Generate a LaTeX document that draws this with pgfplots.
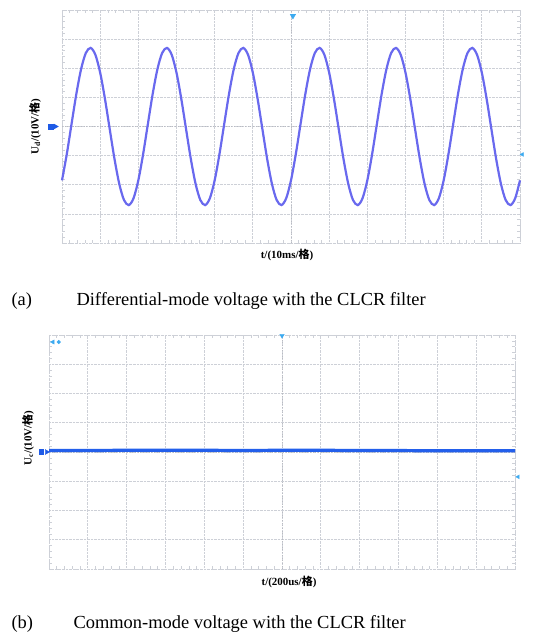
\documentclass[border=0pt]{standalone}
\usepackage{fontspec}
\setmainfont{Liberation Serif}
\newfontfamily\cjk{Noto Sans CJK SC}
\usepackage{pgfplots}
\pgfplotsset{compat=1.18}
\definecolor{sinecol}{RGB}{105,105,238}
\definecolor{flatcol}{RGB}{35,95,235}
\definecolor{mkdark}{RGB}{30,90,230}
\definecolor{mklight}{RGB}{60,170,240}
\definecolor{gridcol}{RGB}{205,208,215}
\pgfplotsset{
  scope/.style={
    scale only axis,
    xmin=0, xmax=12, ymin=-4, ymax=4,
    xtick={0,...,12}, ytick={-4,...,4},
    xticklabels={}, yticklabels={},
    minor x tick num=4, minor y tick num=4,
    major tick length=0pt, minor tick length=3bp,
    tick style={gridcol, line width=0.6pt},
    grid=major,
    major grid style={gridcol, densely dotted, line width=0.7pt},
    axis line style={gridcol, densely dotted, line width=0.8pt},
    extra x ticks={6}, extra y ticks={0},
    extra x tick labels={}, extra y tick labels={},
    extra tick style={grid=major, major grid style={gridcol!90!black, dotted, line width=1pt}},
    clip=false,
    label style={font=\bfseries\fontsize{11}{13}\selectfont},
  }
}
\begin{document}
\begin{tikzpicture}
\useasboundingbox (0,0) rectangle (549bp,639bp);
% ---------------- panel (a)
\begin{axis}[scope,
  at={(62bp,396bp)}, anchor=south west,
  width=458bp, height=233bp,
  xlabel={t/(10ms/{\cjk 格})},
  ylabel={U\textsubscript{d}/(10V/{\cjk 格})},
  xlabel style={at={(axis description cs:0.5,0)}, anchor=center, yshift=-12bp, xshift=-4bp},
  ylabel style={at={(axis description cs:0,0.5)}, anchor=center, yshift=27bp},
]
\addplot[sinecol, line width=2.2bp, smooth, tension=0.5] coordinates {
(0.000,-1.848)(0.125,-0.954)(0.250,0.085)(0.375,1.111)(0.500,1.968)(0.625,2.526)(0.750,2.699)(0.875,2.461)
(1.000,1.848)(1.125,0.954)(1.250,-0.085)(1.375,-1.111)(1.500,-1.968)(1.625,-2.526)(1.750,-2.699)(1.875,-2.461)
(2.000,-1.848)(2.125,-0.954)(2.250,0.085)(2.375,1.111)(2.500,1.968)(2.625,2.526)(2.750,2.699)(2.875,2.461)
(3.000,1.848)(3.125,0.954)(3.250,-0.085)(3.375,-1.111)(3.500,-1.968)(3.625,-2.526)(3.750,-2.699)(3.875,-2.461)
(4.000,-1.848)(4.125,-0.954)(4.250,0.085)(4.375,1.111)(4.500,1.968)(4.625,2.526)(4.750,2.699)(4.875,2.461)
(5.000,1.848)(5.125,0.954)(5.250,-0.085)(5.375,-1.111)(5.500,-1.968)(5.625,-2.526)(5.750,-2.699)(5.875,-2.461)
(6.000,-1.848)(6.125,-0.954)(6.250,0.085)(6.375,1.111)(6.500,1.968)(6.625,2.526)(6.750,2.699)(6.875,2.461)
(7.000,1.848)(7.125,0.954)(7.250,-0.085)(7.375,-1.111)(7.500,-1.968)(7.625,-2.526)(7.750,-2.699)(7.875,-2.461)
(8.000,-1.848)(8.125,-0.954)(8.250,0.085)(8.375,1.111)(8.500,1.968)(8.625,2.526)(8.750,2.699)(8.875,2.461)
(9.000,1.848)(9.125,0.954)(9.250,-0.085)(9.375,-1.111)(9.500,-1.968)(9.625,-2.526)(9.750,-2.699)(9.875,-2.461)
(10.000,-1.848)(10.125,-0.954)(10.250,0.085)(10.375,1.111)(10.500,1.968)(10.625,2.526)(10.750,2.699)(10.875,2.461)
(11.000,1.848)(11.125,0.954)(11.250,-0.085)(11.375,-1.111)(11.500,-1.968)(11.625,-2.526)(11.750,-2.699)(11.875,-2.461)
(12.000,-1.848)
};
% ground marker (left)
\addplot[only marks, mark=square*, mark size=2.4bp, mkdark] coordinates {(-0.30,0)};
\addplot[only marks, mark=triangle*, mark size=2.8bp, mkdark, mark options={rotate=-90}] coordinates {(-0.17,0)};
% trigger position marker (top)
\addplot[only marks, mark=triangle*, mark size=3.2bp, mklight, mark options={rotate=180}] coordinates {(6.05,3.80)};
% trigger level marker (right)
\addplot[only marks, mark=triangle*, mark size=2.2bp, mklight, mark options={rotate=90}] coordinates {(12.06,-0.96)};
\end{axis}
% ---------------- panel (b)
\begin{axis}[scope,
  at={(49bp,70bp)}, anchor=south west,
  width=466bp, height=234bp,
  xlabel={t/(200us/{\cjk 格})},
  ylabel={U\textsubscript{c}/(10V/{\cjk 格})},
  xlabel style={at={(axis description cs:0.5,0)}, anchor=center, yshift=-13bp, xshift=7bp},
  ylabel style={at={(axis description cs:0,0.5)}, anchor=center, yshift=21bp, xshift=14bp},
]
\addplot[flatcol, line width=3.2bp] coordinates {
(0,0.05)(1,0.05)(2,0.06)(3,0.06)(4,0.06)(5,0.05)(6,0.06)(7,0.06)(8,0.05)(9,0.05)(10,0.04)(11,0.04)(12,0.04)
};
\addplot[only marks, mark=square*, mark size=2.4bp, mkdark] coordinates {(-0.20,0)};
\addplot[only marks, mark=triangle*, mark size=2.8bp, mkdark, mark options={rotate=-90}] coordinates {(-0.06,0)};
\addplot[only marks, mark=triangle*, mark size=2.4bp, mklight, mark options={rotate=90}] coordinates {(0.10,3.76)};
\addplot[only marks, mark=*, mark size=1.8bp, mklight] coordinates {(0.25,3.76)};
\addplot[only marks, mark=triangle*, mark size=2.6bp, mklight, mark options={rotate=180}] coordinates {(6.0,3.98)};
\addplot[only marks, mark=triangle*, mark size=2.2bp, mklight, mark options={rotate=90}] coordinates {(12.08,-0.85)};
\end{axis}
% ---------------- captions
\node[anchor=west, font=\fontsize{18.5}{22}\selectfont] at (8bp,338bp) {(a)};
\node[anchor=west, font=\fontsize{18.5}{22}\selectfont] at (73bp,338bp) {Differential-mode voltage with the CLCR filter};
\node[anchor=west, font=\fontsize{18.5}{22}\selectfont] at (8bp,15bp) {(b)};
\node[anchor=west, font=\fontsize{18.5}{22}\selectfont] at (70bp,15bp) {Common-mode voltage with the CLCR filter};
\end{tikzpicture}
\end{document}
